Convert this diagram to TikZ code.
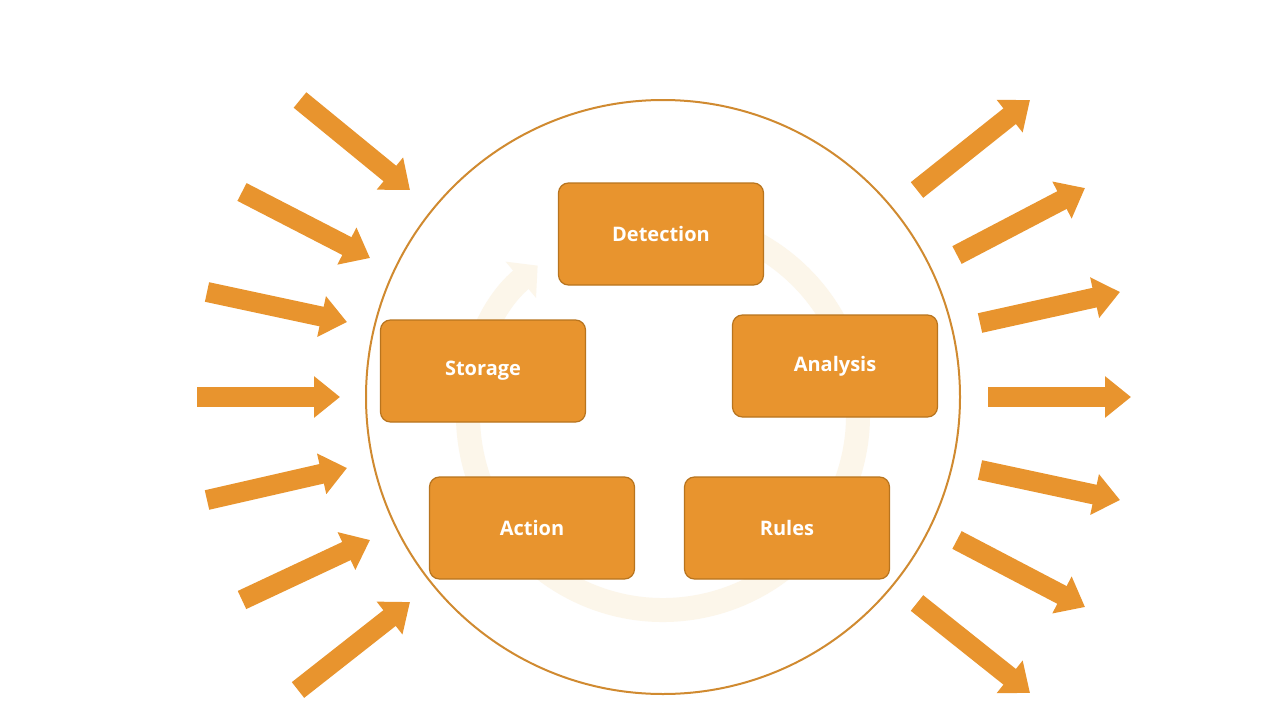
\documentclass[tikz,border=0pt]{standalone}
\usepackage{fontspec}
\setmainfont{Open Sans}
\usetikzlibrary{arrows.meta}
\definecolor{org}{HTML}{E8942E}
\definecolor{orgd}{HTML}{B8741E}
\definecolor{ring}{HTML}{D08A30}
\definecolor{cream}{HTML}{FCF6EA}
\begin{document}
\begin{tikzpicture}[x=1pt,y=-1pt,
  blk/.style={draw=org,line width=20pt,-{Triangle[width=40pt,length=26pt]}},
  box/.style={draw=orgd,line width=1.2pt,fill=org,rounded corners=10pt,minimum width=205pt,minimum height=102pt,text=white,font=\bfseries\fontsize{20}{24}\selectfont}]
\useasboundingbox (0,0) rectangle (1280,720);
\fill[white] (0,0) rectangle (1280,720);
% big circle
\coordinate (c) at (663,397);
\draw[ring,line width=2pt] (c) circle[radius=297];
% inner cycle
\coordinate (ic) at (663,415);
\draw[cream,line width=24pt,-{Triangle[width=46pt,length=22pt]}] (ic) ++(-100:195) arc[start angle=-100,end angle=230,radius=195];
% boxes
\node[box] (det) at (661,234) {Detection};
\node[box] (ana) at (835,366) {Analysis};
\node[box] (sto) at (483,371) {Storage};
\node[box] (act) at (532,528) {Action};
\node[box] (rul) at (787,528) {Rules};
% left arrows
\foreach \i/\a/\b/\c/\d in {1/300/100/410/190, 2/242/192/370/258, 3/207/292/347/322, 4/197/397/340/397, 5/207/500/347/468, 6/242/600/370/540, 7/298/690/410/602}{
  \coordinate (ls\i) at (\a,\b); \coordinate (le\i) at (\c,\d);
  \draw[blk] (ls\i) -- (le\i);}
% right arrows
\foreach \i/\a/\b/\c/\d in {1/917/190/1030/100, 2/957/255/1085/188, 3/980/323/1120/292, 4/988/397/1131/397, 5/980/470/1120/500, 6/957/540/1085/607, 7/917/603/1030/693}{
  \coordinate (rs\i) at (\a,\b); \coordinate (re\i) at (\c,\d);
  \draw[blk] (rs\i) -- (re\i);}
\end{tikzpicture}
\end{document}
